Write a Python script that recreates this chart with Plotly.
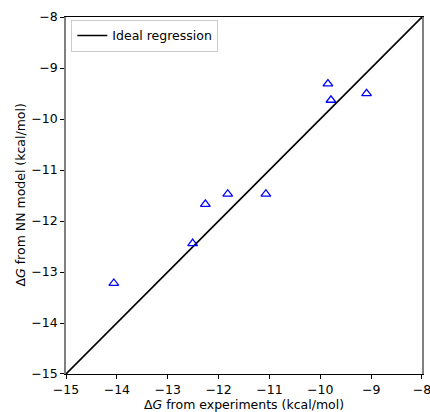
import plotly.graph_objects as go

exp_dg = [-9.85, -9.79, -9.09, -11.82, -11.07, -12.26, -12.51, -14.06]
nn_dg = [-9.31, -9.63, -9.50, -11.47, -11.47, -11.67, -12.44, -13.22]
ideal = [-15, -8]
ticks = [-15, -14, -13, -12, -11, -10, -9, -8]

fig = go.Figure()
fig.add_trace(go.Scatter(x=ideal, y=ideal, mode="lines", name="Ideal regression",
                         line=dict(color="black", width=1.6)))
fig.add_trace(go.Scatter(x=exp_dg, y=nn_dg, mode="markers", showlegend=False,
                         marker=dict(symbol="triangle-up-open", size=8.5, color="blue",
                                     line=dict(width=1.3, color="blue"))))

FONT = "DejaVu Sans"
FS = 12.5
fig.update_layout(
    width=430, height=412,
    margin=dict(l=66, r=8, t=17, b=38, autoexpand=False),
    plot_bgcolor="white", paper_bgcolor="white",
    font=dict(family=FONT, size=FS, color="black"),
    legend=dict(x=0.015, y=0.992, xanchor="left", yanchor="top", itemwidth=30,
                bgcolor="rgba(255,255,255,0.8)", bordercolor="#cccccc", borderwidth=1,
                font=dict(family=FONT, size=FS, color="black")),
    annotations=[
        dict(text="Δ<i>G</i> from experiments (kcal/mol)", xref="paper", yref="paper",
             x=0.5, y=0, xanchor="center", yanchor="middle", yshift=-30,
             showarrow=False, font=dict(family=FONT, size=FS, color="black")),
        dict(text="Δ<i>G</i> from NN model (kcal/mol)", xref="paper", yref="paper",
             x=0, y=0.5, xanchor="center", yanchor="middle", xshift=-46, textangle=-90,
             showarrow=False, font=dict(family=FONT, size=FS, color="black")),
    ],
)
fig.update_xaxes(range=[-15.0001, -7.9999], tickvals=ticks, showgrid=False, zeroline=False,
                 automargin=False, ticklabeloverflow="allow",
                 showline=True, linecolor="black", linewidth=1, mirror=True,
                 ticks="outside", ticklen=4, tickcolor="black")
fig.update_yaxes(range=[-15.0001, -7.9999], tickvals=ticks, showgrid=False, zeroline=False,
                 automargin=False, ticklabeloverflow="allow",
                 showline=True, linecolor="gray", linewidth=1.5, mirror=True,
                 ticks="outside", ticklen=4, tickcolor="black")
fig.write_html("out.html", config={"displayModeBar": False},
               post_script="document.body.style.margin='0';document.body.style.overflow='hidden';")
